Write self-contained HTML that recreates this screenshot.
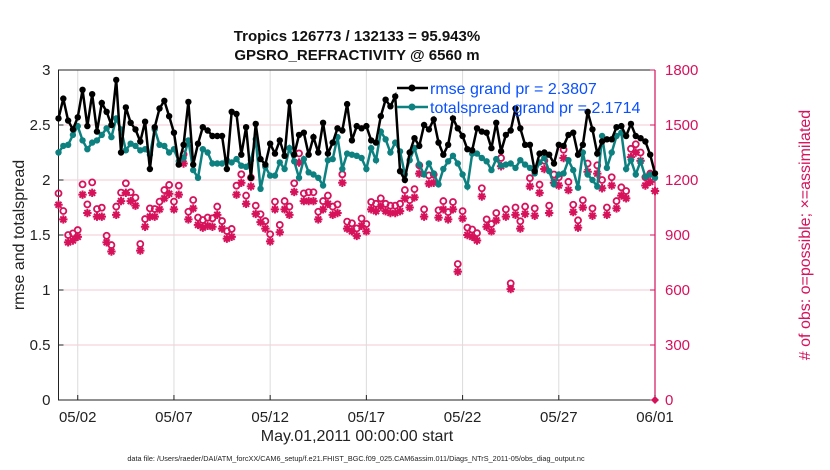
<!DOCTYPE html>
<html><head><meta charset="utf-8"><style>
body{margin:0;background:#fff;}
svg{display:block;font-family:"Liberation Sans",sans-serif;}
</style></head><body>
<svg id="chart" width="830" height="470" viewBox="0 0 830 470"></svg>
<script>
const dayTicks = [1,6,11,16,21,26,31];
const dayLabels = ["05/02","05/07","05/12","05/17","05/22","05/27","06/01"];
const leftTicks = [0,0.5,1,1.5,2,2.5,3];
const rightTicks = [0,300,600,900,1200,1500,1800];
const rmse = [2.56,2.74,2.54,2.46,2.57,2.82,2.49,2.78,2.44,2.70,2.62,2.50,2.91,2.25,2.66,2.52,2.46,2.35,2.53,2.10,2.48,2.65,2.72,2.58,2.43,2.14,2.32,2.71,2.14,2.33,2.48,2.45,2.40,2.40,2.40,2.10,2.62,2.60,2.23,2.48,2.02,2.51,2.19,2.14,2.33,2.24,2.36,2.22,2.71,2.23,2.41,2.43,2.23,2.39,2.25,2.52,2.24,2.34,2.47,2.45,2.69,2.36,2.49,
2.47,2.49,2.36,2.34,2.58,2.73,2.67,2.76,2.08,2.00,2.25,2.38,2.31,2.50,2.46,2.55,2.34,2.23,2.32,2.56,2.47,2.40,2.28,2.27,2.47,2.44,2.43,2.29,2.52,2.26,2.41,2.45,2.65,2.47,2.32,2.32,2.08,2.24,2.25,2.23,2.15,2.32,2.31,2.41,2.43,2.23,2.32,2.62,2.46,2.24,2.35,2.37,2.37,2.48,2.49,2.40,2.51,2.40,2.38,2.35,2.23,2.06];
const spread = [2.25,2.31,2.32,2.41,2.49,2.36,2.28,2.34,2.36,2.41,2.47,2.39,2.56,2.46,2.27,2.33,2.31,2.27,2.28,2.23,2.46,2.32,2.31,2.25,2.28,2.17,2.20,2.36,2.09,2.02,2.28,2.25,2.15,2.15,2.15,2.18,2.16,2.19,2.13,2.12,2.18,2.37,1.92,2.12,2.04,2.04,2.16,2.10,2.29,2.17,2.02,2.19,2.07,2.05,2.02,1.95,2.18,2.19,2.39,2.10,2.24,2.23,2.22,
2.20,2.10,2.29,2.18,2.44,2.37,2.25,2.34,2.26,2.05,2.18,2.29,2.14,2.05,2.15,2.06,1.96,2.10,2.17,2.22,2.15,2.05,1.94,2.24,2.24,2.20,2.17,2.09,2.19,2.13,2.14,2.15,2.11,2.18,2.14,2.11,2.06,2.16,2.20,2.08,1.96,2.05,2.06,2.18,2.09,1.93,2.25,2.05,2.00,1.94,2.40,2.11,2.25,2.40,2.43,2.10,2.18,2.05,2.17,2.03,2.05,2.02];
const possible = [1127,1031,900,909,927,1176,1067,1187,1042,1049,896,845,1055,1131,1182,1133,1104,851,987,1045,1042,1082,1145,1173,1082,1169,1340,1027,1091,995,982,995,991,1055,976,922,933,1169,1231,1115,1213,1060,1013,976,904,1082,955,1085,1055,1182,1345,1127,1133,1133,1027,1085,1115,1055,1067,1231,973,964,936,
990,960,1080,1070,1100,1070,1060,1060,1070,1145,1090,1150,1280,1040,1225,1230,1035,1085,1025,1080,742,1030,940,930,910,1155,985,960,1020,1320,1040,636,1050,975,1055,1210,1045,1175,1305,1060,1230,1215,1365,1190,1065,980,1090,1290,1045,1280,1200,1050,1215,1085,1160,1140,1370,1395,1350,1215,1235];
const assimilated = [1065,985,860,870,890,1120,1020,1130,1000,1000,860,810,1010,1085,1130,1085,1060,815,945,1000,1000,1040,1100,1125,1040,1120,1290,985,1045,955,940,950,945,1010,935,880,890,1120,1185,1070,1165,1015,970,935,865,1040,915,1040,1010,1135,1295,1085,1085,1085,985,1040,1070,1010,1020,1185,935,920,895,
950,920,1040,1030,1055,1030,1020,1020,1030,1100,1050,1105,1235,1000,1180,1185,995,1040,985,1040,700,990,900,890,870,1110,945,920,980,1275,1000,605,1010,935,1015,1165,1005,1130,1260,1020,1185,1170,1320,1145,1025,940,1050,1245,1005,1235,1155,1010,1170,1045,1115,1100,1325,1350,1305,1170,1190,1140];
const endDay = 31, endCount = 0;

const NS="http://www.w3.org/2000/svg";
const svg=document.getElementById('chart');
const L=58.5,R=655,T=70,B=400;
const xs=d=>L+(R-L)*d/31;
const yl=v=>B-(B-T)*v/3;
const yr=v=>B-(B-T)*v/1800;
const RED="#d6125b",TEAL="#0d8080";
function el(tag,attrs,parent){const e=document.createElementNS(NS,tag);for(const k in attrs)e.setAttribute(k,attrs[k]);(parent||svg).appendChild(e);return e;}
function txt(s,attrs){const e=el('text',attrs);e.textContent=s;return e;}

// grids
leftTicks.forEach(v=>{ if(v>0&&v<3){const g=el('line',{x1:L,x2:R,y1:yl(v),y2:yl(v),stroke:"#f3c8d6","stroke-width":1});

}});
dayTicks.forEach(d=>{const g=el('line',{x1:xs(d),x2:xs(d),y1:T,y2:B,stroke:"#dcdcdc","stroke-width":1});

});

// axes
const ax=el('path',{d:`M${R} ${T}H${L}V${B}H${R}`,fill:"none",stroke:"#222","stroke-width":1});


const rax=el('line',{x1:R,x2:R,y1:T,y2:B,stroke:RED,"stroke-width":1.2});



leftTicks.forEach(v=>{el('line',{x1:L,x2:L+5,y1:yl(v),y2:yl(v),stroke:"#222"});
const t=txt(String(v),{x:L-8,y:yl(v)+5,"text-anchor":"end","font-size":15,fill:"#222"});

});
rightTicks.forEach(v=>{el('line',{x1:R-5,x2:R,y1:yr(v),y2:yr(v),stroke:RED});
const t=txt(String(v),{x:R+10,y:yr(v)+5,"font-size":15,fill:RED});

});
dayTicks.forEach((d,i)=>{el('line',{x1:xs(d),x2:xs(d),y1:B,y2:B-5,stroke:"#222"});
const t=txt(dayLabels[i],{x:xs(d),y:B+22,"text-anchor":"middle","font-size":15,fill:"#222"});

});

// obs markers
function star(cx,cy,parent){const r=4.2;let d="";for(let a=0;a<4;a++){const t=a*Math.PI/4;d+=`M${cx-r*Math.cos(t)} ${cy-r*Math.sin(t)}L${cx+r*Math.cos(t)} ${cy+r*Math.sin(t)}`;}return el('path',{d,stroke:RED,"stroke-width":2,fill:"none"},parent);}
const n=rmse.length, dt=31/(n-1);
possible.forEach((v,i)=>{const c=el('circle',{cx:xs(i*dt),cy:yr(v),r:3,fill:"none",stroke:RED,"stroke-width":1.8});

});
assimilated.forEach((v,i)=>{const s=star(xs(i*dt),yr(v));

});
const endM=el('path',{d:`M${xs(endDay)-4} ${yr(endCount)}L${xs(endDay)} ${yr(endCount)-4}L${xs(endDay)+4} ${yr(endCount)}L${xs(endDay)} ${yr(endCount)+4}Z`,fill:RED});



// lines
function series(vals,color,name){const g=el('g',{});


el('polyline',{points:vals.map((v,i)=>xs(i*dt)+","+yl(v)).join(" "),fill:"none",stroke:color,"stroke-width":2.5},g);
vals.forEach((v,i)=>el('circle',{cx:xs(i*dt),cy:yl(v),r:3.2,fill:color},g));}
series(spread,TEAL,'totalspread-series');
series(rmse,"#000",'rmse-series');

// legend
function legItem(y,color,label,name){const g=el('g',{});


el('line',{x1:397,x2:428,y1:y,y2:y,stroke:color,"stroke-width":2.5},g);
el('circle',{cx:412,cy:y,r:3.5,fill:color},g);
const t=el('text',{x:430,y:y+6,"font-size":16,fill:"#0a50ff"},g);t.textContent=label;}
legItem(88,"#000","rmse grand pr = 2.3807",'legend-entry-rmse');
legItem(107,TEAL,"totalspread grand pr = 2.1714",'legend-entry-totalspread');

// titles
let t;
t=txt("Tropics 126773 / 132133 = 95.943%",{x:357,y:41,"text-anchor":"middle","font-size":15,"font-weight":"bold",fill:"#111"});


t=txt("GPSRO_REFRACTIVITY @ 6560 m",{x:357,y:60,"text-anchor":"middle","font-size":15,"font-weight":"bold",fill:"#111"});


t=txt("rmse and totalspread",{x:0,y:0,"text-anchor":"middle","font-size":16,fill:"#222",transform:"translate(24,235) rotate(-90)"});


t=txt("# of obs: o=possible; \u00d7=assimilated",{x:0,y:0,"text-anchor":"middle","font-size":16,fill:RED,transform:"translate(810,235) rotate(-90)"});


t=txt("May.01,2011 00:00:00 start",{x:357,y:441,"text-anchor":"middle","font-size":16,fill:"#222"});


t=txt("data file: /Users/raeder/DAI/ATM_forcXX/CAM6_setup/f.e21.FHIST_BGC.f09_025.CAM6assim.011/Diags_NTrS_2011-05/obs_diag_output.nc",{x:356,y:461,"text-anchor":"middle","font-size":7.3,fill:"#222"});


</script>
</body></html>
